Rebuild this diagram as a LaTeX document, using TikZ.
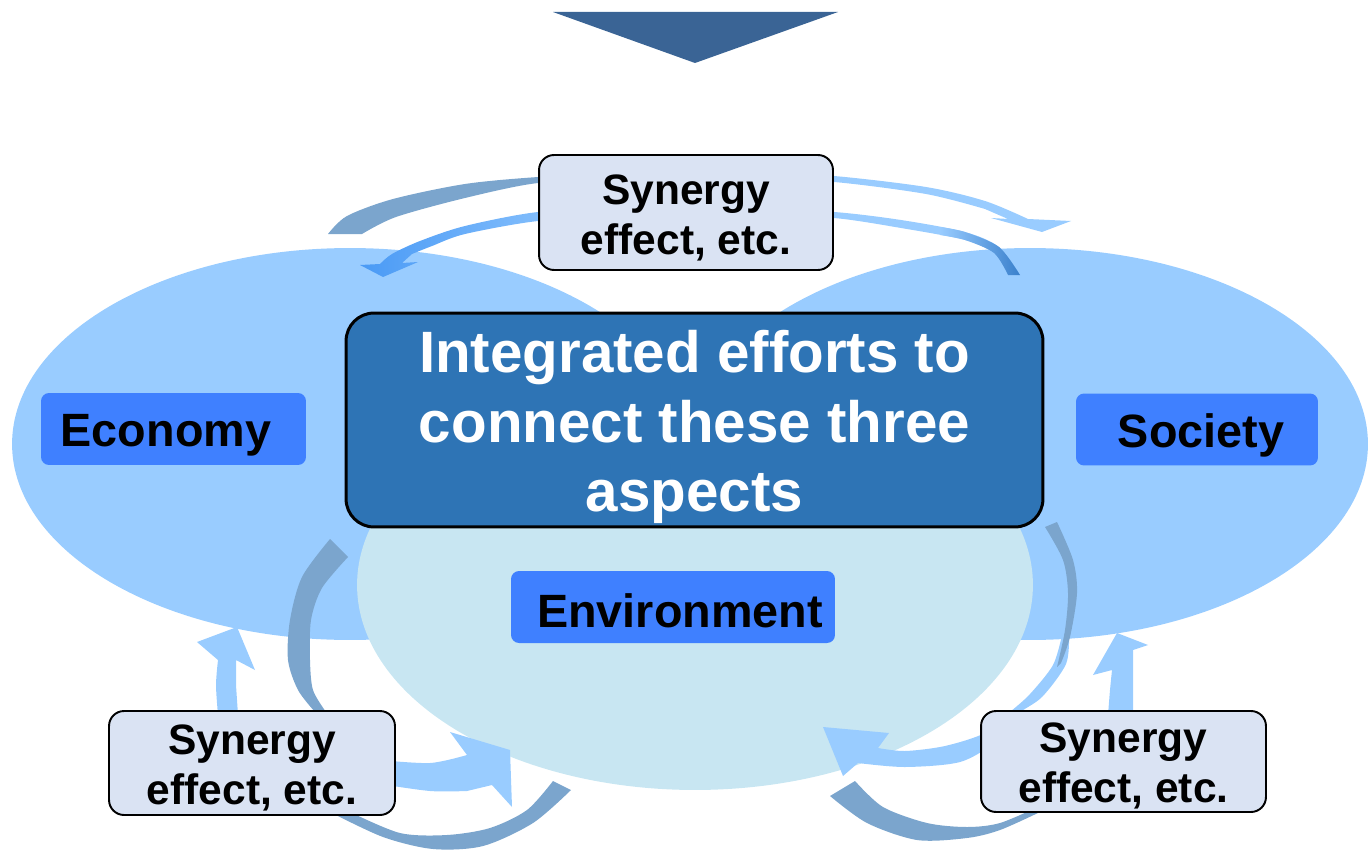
\documentclass[tikz,border=0pt]{standalone}
\usepackage{fontspec}
\setmainfont{Liberation Sans}
\definecolor{ellblue}{HTML}{99CCFF}
\definecolor{envblue}{HTML}{C8E6F2}
\definecolor{mainblue}{HTML}{2E74B5}
\definecolor{labblue}{HTML}{3F80FF}
\definecolor{synfill}{HTML}{DAE3F3}
\definecolor{darkarrow}{HTML}{7BA5CD}
\definecolor{lightarrow}{HTML}{99CCFF}
\definecolor{headblue}{HTML}{4A9AF5}
\definecolor{tailblue}{HTML}{3A80CC}
\definecolor{tribl}{HTML}{3A6495}
\tikzset{
  mainbox/.style={draw=black, line width=1.7pt, fill=mainblue, rounded corners=0.56cm,
    minimum width=13.94cm, minimum height=4.28cm, inner sep=0pt},
  maintext/.style={inner sep=0pt, align=center,
    text=white, font=\bfseries\fontsize{33.2}{39.7}\selectfont},
  synbox/.style={draw=black, line width=1.1pt, fill=synfill, rounded corners=0.3cm, inner sep=0pt},
  syntext/.style={inner sep=0pt, align=center, font=\bfseries\fontsize{24.2}{28.5}\selectfont},
  labbox/.style={fill=labblue, rounded corners=0.16cm, inner sep=0pt, minimum height=1.44cm},
  labtext/.style={inner sep=0pt, font=\bfseries\fontsize{26.6}{32}\selectfont},
}
\begin{document}
\begin{tikzpicture}[x=0.02cm,y=-0.02cm]
\useasboundingbox (0,0) rectangle (1368,851);
% top triangle
\fill[tribl] (553,12) -- (838,12) -- (695,63) -- cycle;
% ellipses
\fill[ellblue] (350,444) ellipse [x radius=6.76cm, y radius=3.92cm];
\fill[ellblue] (1030,444) ellipse [x radius=6.76cm, y radius=3.92cm];
\fill[envblue] (695,585) ellipse [x radius=6.76cm, y radius=4.1cm];

% ---- top arrows ----
\fill[darkarrow] plot[smooth] coordinates {(328,234) (347,216) (393,199) (465,184) (538,177) (620,173)}
  -- plot[smooth] coordinates {(620,180) (538,183) (465,198) (396,217) (362,234)} -- cycle;
\fill[lightarrow] plot[smooth] coordinates {(760,173) (834,176) (926,187) (985,201) (1028,219)}
  -- (1071,221) -- (1042,232) -- (991,218) -- (1008,219)
  -- plot[smooth] coordinates {(985,209) (926,194) (834,182) (760,180)} -- cycle;
\shade[left color=headblue, right color=lightarrow] plot[smooth] coordinates {(620,209) (538,212) (465,226) (420,241) (392,254) (380,264)}
  -- (360,265) -- (383,277) -- (418,262) -- (402,263)
  -- plot[smooth] coordinates {(412,254) (432,246) (465,234) (538,221) (620,217)} -- cycle;
\fill[lightarrow] plot[smooth] coordinates {(760,210) (834,212) (901,220) (965,232) (999,247) (1020,275)}
  -- plot[smooth] coordinates {(1008,275) (994,253) (965,240) (901,228) (834,218) (760,216)} -- cycle;
\shade[left color=lightarrow, right color=tailblue] plot[smooth] coordinates {(940,227) (965,232) (999,247) (1020,275)}
  -- plot[smooth] coordinates {(1008,275) (994,253) (965,240) (940,235)} -- cycle;

% ---- bottom-left arrows ----
\fill[darkarrow] plot[smooth] coordinates {(330,539) (302,577) (290,620) (288,660) (298,690) (315,712)}
  -- plot[smooth] coordinates {(326,712) (313,690) (310,660) (311,620) (322,588) (348,557)} -- cycle;
\fill[darkarrow] plot[smooth] coordinates {(330,812) (383,837) (433,849) (483,846) (533,823) (571,790)}
  -- plot[smooth] coordinates {(553,781) (527,810) (490,828) (447,835) (400,833) (350,812)} -- cycle;
\fill[lightarrow] plot[smooth] coordinates {(380,760) (430,763) (467,755)}
  -- (450,732) -- (510,750) -- (512,807) -- (492,785)
  -- plot[smooth] coordinates {(467,791) (430,791) (380,784)} -- cycle;
\fill[lightarrow] plot[smooth] coordinates {(218,715) (216,685) (218,660)}
  -- (197,642) -- (237,627) -- (255,670) -- (236,660)
  -- plot[smooth] coordinates {(236,685) (238,715)} -- cycle;

% ---- bottom-right arrows ----
\fill[lightarrow] plot[smooth] coordinates {(878,748) (905,751) (945,746) (985,733) (1010,712) (1030,694) (1053,665) (1062,635)}
  -- plot[smooth] coordinates {(1069,635) (1066,664) (1042,697) (1015,716) (995,742) (960,762) (905,767) (858,763)}
  -- (843,776) -- (823,727) -- (889,733) -- cycle;
\fill[darkarrow] plot[smooth] coordinates {(1045,527) (1063,560) (1068,593) (1065,630) (1057,667)}
  -- plot[smooth] coordinates {(1061,663) (1070,637) (1077,593) (1073,560) (1057,522)} -- cycle;
\fill[darkarrow] plot[smooth] coordinates {(830,796) (867,823) (917,840) (967,838) (1000,830) (1040,812)}
  -- plot[smooth] coordinates {(1040,806) (1000,823) (967,827) (927,823) (883,807) (855,781)} -- cycle;
\fill[lightarrow] plot[smooth] coordinates {(1108,715) (1110,690) (1112,670)}
  -- (1093,675) -- (1117,633) -- (1148,645) -- (1133,650)
  -- plot[smooth] coordinates {(1133,680) (1133,715)} -- cycle;

% ---- boxes ----
\node[mainbox] (main) at (694.5,420) {};
\node[maintext] (maint) at (694.5,427) {Integrated efforts to\\connect these three\\aspects};
\node[synbox, minimum width=5.88cm, minimum height=2.3cm] (syntop) at (686,212.5) {};
\node[syntext] (syntopt) at (686,218) {Synergy\\effect, etc.};
\node[synbox, minimum width=5.72cm, minimum height=2.08cm] (synbl) at (252,763) {};
\node[syntext] (synblt) at (252,768) {Synergy\\effect, etc.};
\node[synbox, minimum width=5.7cm, minimum height=2.02cm] (synbr) at (1123.5,761.5) {};
\node[syntext] (synbrt) at (1123.5,766) {Synergy\\effect, etc.};
\node[labbox, minimum width=5.3cm] (eco) at (173.5,429) {};
\node[labtext] (ecot) at (166,435) {Economy};
\node[labbox, minimum width=4.84cm] (soc) at (1197,429.5) {};
\node[labtext] (soct) at (1201,435) {Society};
\node[labbox, minimum width=6.48cm] (env) at (673,607) {};
\node[labtext] (envt) at (680,611) {Environment};
\end{tikzpicture}
\end{document}
